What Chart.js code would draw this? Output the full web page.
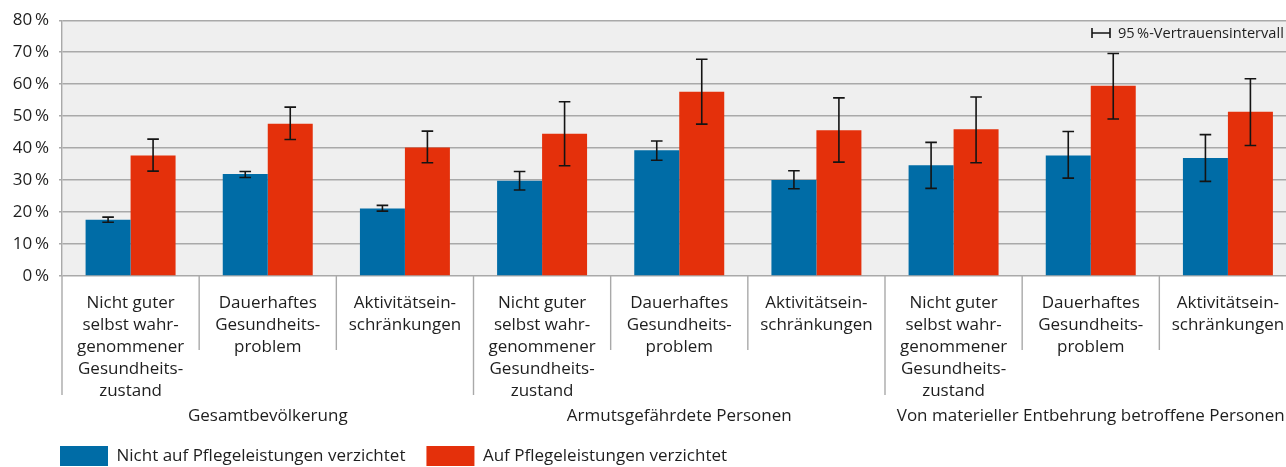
<!DOCTYPE html>
<html lang="de">
<head>
<meta charset="utf-8">
<title>Verzicht auf Pflegeleistungen nach Gesundheitszustand</title>
<script src="https://cdn.jsdelivr.net/npm/chart.js@4.4.1/dist/chart.umd.min.js"></script>
<style>
  html, body { margin: 0; padding: 0; background: #ffffff; overflow: hidden; }
  #wrap { position: relative; width: 1297px; height: 467px; }
</style>
</head>
<body>
<div id="wrap"><canvas id="chart"></canvas></div>
<script>
// Kategorien (mehrzeilige Achsenbeschriftung) und Personengruppen
const categories = [
  ["Nicht guter", "selbst wahr-", "genommener", "Gesundheits-", "zustand"],
  ["Dauerhaftes", "Gesundheits-", "problem"],
  ["Aktivitätsein-", "schränkungen"],
  ["Nicht guter", "selbst wahr-", "genommener", "Gesundheits-", "zustand"],
  ["Dauerhaftes", "Gesundheits-", "problem"],
  ["Aktivitätsein-", "schränkungen"],
  ["Nicht guter", "selbst wahr-", "genommener", "Gesundheits-", "zustand"],
  ["Dauerhaftes", "Gesundheits-", "problem"],
  ["Aktivitätsein-", "schränkungen"]
];
const groups = ["Gesamtbevölkerung", "Armutsgefährdete Personen", "Von materieller Entbehrung betroffene Personen"];
const seriesNames = ["Nicht auf Pflegeleistungen verzichtet", "Auf Pflegeleistungen verzichtet"];

// Anteile in % mit 95%-Vertrauensintervall
const notWaived     = [17.6, 31.9, 21.1, 29.8, 39.3, 30.0, 34.6, 37.7, 36.9];
const notWaivedLow  = [16.8, 30.8, 20.3, 26.9, 36.2, 27.3, 27.4, 30.6, 29.6];
const notWaivedHigh = [18.4, 32.7, 22.1, 32.7, 42.2, 32.9, 41.8, 45.2, 44.2];
const waived        = [37.7, 47.6, 40.2, 44.5, 57.6, 45.6, 45.9, 59.5, 51.4];
const waivedLow     = [32.8, 42.7, 35.4, 34.5, 47.5, 35.6, 35.4, 49.1, 40.8];
const waivedHigh    = [42.8, 52.8, 45.3, 54.5, 67.8, 55.7, 56.0, 69.6, 61.7];

const yTicks = [0, 10, 20, 30, 40, 50, 60, 70, 80];
const ciLabel = "95\u2009%-Vertrauensintervall";

const BLUE = "#006ca6";
const RED = "#e4300b";
const GRID = "#a9a9a9";
const TEXT = "#1e1e1e";
const FONT = "'Open Sans', 'Noto Sans', sans-serif";

Chart.defaults.font.family = FONT;
Chart.defaults.color = TEXT;

// Hellgrauer Hintergrund der Zeichenfläche
const plotBackground = {
  id: "plotBackground",
  beforeDraw(chart) {
    const { ctx, chartArea: a } = chart;
    ctx.save();
    ctx.fillStyle = "#efefef";
    ctx.fillRect(a.left, a.top, a.right - a.left, a.bottom - a.top);
    ctx.restore();
  }
};

// Fehlerbalken (Vertrauensintervalle) über den Säulen
const errorBars = {
  id: "errorBars",
  afterDatasetsDraw(chart) {
    const { ctx } = chart;
    const y = chart.scales.y;
    ctx.save();
    ctx.strokeStyle = "#141414";
    ctx.lineWidth = 1.6;
    chart.data.datasets.forEach((ds, di) => {
      const meta = chart.getDatasetMeta(di);
      meta.data.forEach((bar, i) => {
        const yl = y.getPixelForValue(ds.ciLow[i]);
        const yh = y.getPixelForValue(ds.ciHigh[i]);
        const x = bar.x;
        const cap = 5.8;
        ctx.beginPath();
        ctx.moveTo(x, yl); ctx.lineTo(x, yh);
        ctx.moveTo(x - cap, yl); ctx.lineTo(x + cap, yl);
        ctx.moveTo(x - cap, yh); ctx.lineTo(x + cap, yh);
        ctx.stroke();
      });
    });
    ctx.restore();
  }
};

// Trennlinien zwischen Kategorien, Gruppenbeschriftung und Hinweis zum Intervall
const categoryFrame = {
  id: "categoryFrame",
  afterDraw(chart) {
    const { ctx, chartArea: a } = chart;
    const n = categories.length;
    const step = (a.right - a.left) / n;
    const bounds = [];
    for (let k = 0; k <= n; k++) bounds.push(a.left + k * step);

    ctx.save();
    ctx.strokeStyle = GRID;
    ctx.lineWidth = 1.4;
    bounds.forEach((bx, k) => {
      const end = (k % 3 === 0) ? 395 : 350;
      ctx.beginPath();
      ctx.moveTo(bx, a.bottom);
      ctx.lineTo(bx, end);
      ctx.stroke();
    });

    ctx.fillStyle = TEXT;
    ctx.font = "17px " + FONT;
    ctx.textAlign = "center";
    ctx.textBaseline = "middle";
    groups.forEach((g, gi) => {
      const cx = (bounds[gi * 3] + bounds[gi * 3 + 3]) / 2;
      ctx.fillText(g, cx, 416);
    });

    // Legendensymbol für das Vertrauensintervall
    const lx = 1092, ly = 33;
    ctx.strokeStyle = "#141414";
    ctx.lineWidth = 1.6;
    ctx.beginPath();
    ctx.moveTo(lx, ly); ctx.lineTo(lx + 18, ly);
    ctx.moveTo(lx, ly - 5); ctx.lineTo(lx, ly + 5);
    ctx.moveTo(lx + 18, ly - 5); ctx.lineTo(lx + 18, ly + 5);
    ctx.stroke();
    ctx.font = "14.6px " + FONT;
    ctx.textAlign = "left";
    ctx.fillText(ciLabel, lx + 26, ly + 0.5);
    ctx.restore();
  }
};

// Legende unten links ausrichten
const legendPlacement = {
  id: "legendPlacement",
  afterLayout(chart) {
    if (chart.legend) {
      chart.legend.left = 39;
      chart.legend.top = 425;
    }
  }
};

new Chart(document.getElementById("chart"), {
  type: "bar",
  data: {
    labels: categories,
    datasets: [
      { label: seriesNames[0], data: notWaived, ciLow: notWaivedLow, ciHigh: notWaivedHigh,
        backgroundColor: BLUE, borderWidth: 0 },
      { label: seriesNames[1], data: waived, ciLow: waivedLow, ciHigh: waivedHigh,
        backgroundColor: RED, borderWidth: 0 }
    ]
  },
  options: {
    responsive: true,
    maintainAspectRatio: false,
    animation: false,
    devicePixelRatio: 1,
    datasets: { bar: { categoryPercentage: 0.656, barPercentage: 1.0 } },
    layout: { padding: { top: 14, right: 0.5, bottom: 0, left: 0 } },
    plugins: {
      legend: {
        position: "bottom",
        align: "start",
        labels: {
          boxWidth: 48,
          boxHeight: 20,
          padding: 21,
          color: TEXT,
          font: { size: 17, family: FONT }
        }
      },
      tooltip: { enabled: false }
    },
    scales: {
      x: {
        grid: { display: false },
        border: { display: false },
        ticks: {
          autoSkip: false,
          maxRotation: 0,
          minRotation: 0,
          padding: 8,
          color: TEXT,
          font: { size: 17, family: FONT, lineHeight: "22px" }
        },
        afterFit(scale) { scale.height = 140; }
      },
      y: {
        min: 0,
        max: 80,
        afterBuildTicks(scale) { scale.ticks = yTicks.map(v => ({ value: v })); },
        grid: { color: GRID, lineWidth: 1.4, tickLength: 3, drawTicks: true },
        border: { display: true, color: GRID, width: 1.4 },
        ticks: {
          padding: 10,
          color: TEXT,
          font: { size: 17, family: FONT },
          callback: v => v + "\u2009%"
        },
        afterFit(scale) { scale.width = 62; }
      }
    }
  },
  plugins: [plotBackground, errorBars, categoryFrame, legendPlacement]
});
</script>
</body>
</html>
